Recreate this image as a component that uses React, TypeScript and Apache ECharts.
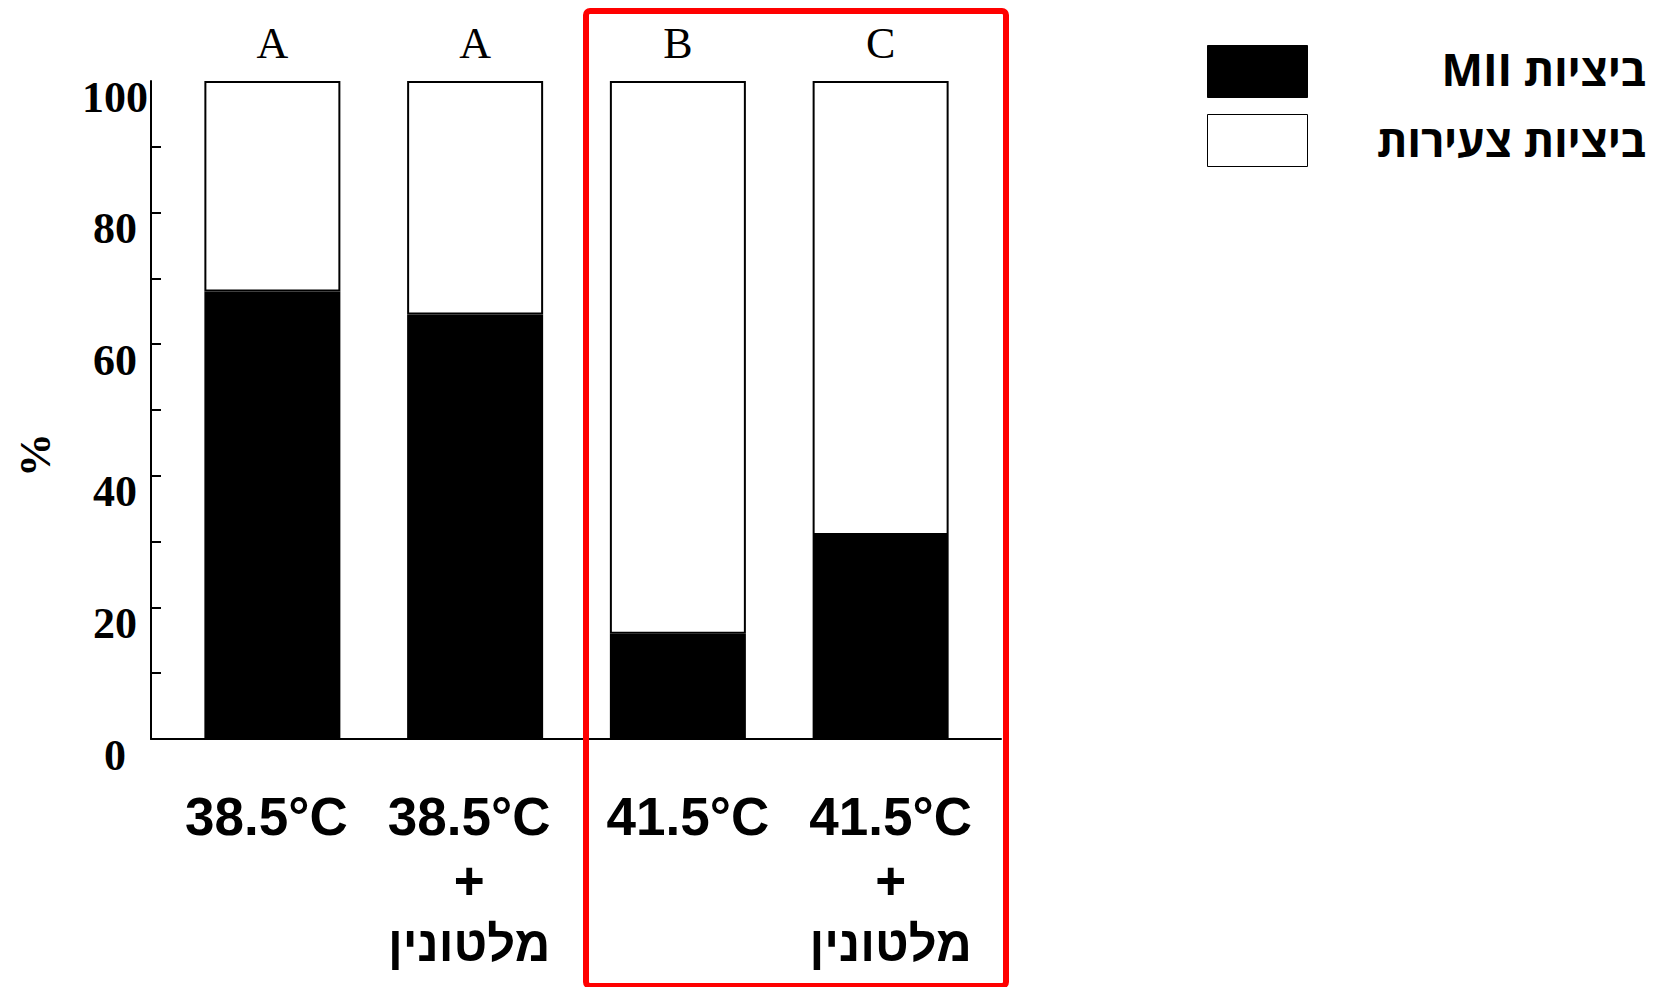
import React, { useEffect, useRef } from 'react';
import * as echarts from 'echarts';

// ---- data ----
const categories = ['38.5°C', '38.5°C\n+\nמלטונין', '41.5°C', '41.5°C\n+\nמלטונין'];
const miiValues = [68, 64.5, 16, 31];
const youngValues = [32, 35.5, 84, 69];
const groupLetters = ['A', 'A', 'B', 'C'];
const seriesNames = ['\u202Bביציות MII\u202C', 'ביציות צעירות'];
const yLabelValues = [0, 20, 40, 60, 80, 100];
const yTickValues = [10, 20, 30, 40, 50, 60, 70, 80, 90];
const yAxisName = '%';

const SERIF = '"Liberation Serif", "Times New Roman", serif';
const NARROW = '"Liberation Sans Narrow", "Arial Narrow", "Liberation Sans", Arial, sans-serif';
const LEGEND_FONT = '"Open Sans", "Liberation Sans", Arial, sans-serif';

const hasHebrew = (s: string) => /[\u0590-\u05FF]/.test(s);

// category label: each line gets its own rich style; left-hand pair sits a little left, right-hand pair a little right
const formatCategory = (value: string, index: number) => {
  const side = index < 2 ? 'L' : 'R';
  return value
    .split('\n')
    .map((line) => `{${hasHebrew(line) ? 'h' : 't'}${side}|${line}}`)
    .join('\n');
};

export default function App() {
  const ref = useRef<HTMLDivElement>(null);
  useEffect(() => {
    document.body.style.margin = '0';
    if (!ref.current) return;
    const chart = echarts.init(ref.current, null, { renderer: 'svg' });
    const axisLineStyle = { color: '#000', width: 2 };
    const base = { fontFamily: NARROW, fontWeight: 'bold', color: '#000', lineHeight: 64 };
    const tStyle = { ...base, fontSize: 53 };
    const hStyle = { ...base, fontSize: 49 };
    const padL = [0, 12, 0, 0];
    const padR = [0, 0, 0, 20];

    // legend layout constants
    const legendLeft = 1207;
    const legendTop = 45;
    const legendItemH = 52;
    const legendGap = 16;
    const legendTextRight = 1646;

    chart.setOption({
      animation: false,
      backgroundColor: '#ffffff',
      grid: [
        { left: 151, top: 81, width: 850, height: 658 },
        { left: 171, top: 81, width: 811, height: 658 },
      ],
      xAxis: [
        {
          gridIndex: 0,
          type: 'value',
          min: 0,
          max: 1,
          axisLine: { show: true, onZero: false, lineStyle: axisLineStyle },
          axisTick: { show: false },
          axisLabel: { show: false },
          splitLine: { show: false },
        },
        {
          gridIndex: 1,
          type: 'category',
          data: categories,
          axisLine: { show: false },
          axisTick: { show: false },
          axisLabel: {
            interval: 0,
            margin: 45,
            fontFamily: NARROW,
            fontWeight: 'bold',
            fontSize: 53,
            lineHeight: 64,
            color: '#000',
            formatter: formatCategory,
            rich: {
              tL: { ...tStyle, padding: padL },
              tR: { ...tStyle, padding: padR },
              hL: { ...hStyle, padding: padL },
              hR: { ...hStyle, padding: padR },
            },
          },
        },
      ],
      yAxis: [
        {
          gridIndex: 0,
          type: 'value',
          min: 0,
          max: 100,
          interval: 10,
          name: yAxisName,
          nameLocation: 'middle',
          nameGap: 94,
          nameTextStyle: {
            fontFamily: SERIF,
            fontWeight: 'bold',
            fontSize: 44,
            color: '#000',
            padding: [0, 90, 0, 0],
          },
          axisLine: { show: true, lineStyle: axisLineStyle },
          axisTick: {
            show: true,
            inside: true,
            length: 10,
            customValues: yTickValues,
            lineStyle: axisLineStyle,
          },
          axisLabel: {
            customValues: yLabelValues,
            align: 'center',
            verticalAlign: 'top',
            lineHeight: 32,
            margin: 36,
            fontFamily: SERIF,
            fontWeight: 'bold',
            fontSize: 44,
            color: '#000',
          },
          splitLine: { show: false },
        },
        { gridIndex: 1, type: 'value', min: 0, max: 100, show: false },
      ],
      legend: {
        orient: 'vertical',
        left: legendLeft,
        top: legendTop,
        padding: 0,
        itemWidth: 100,
        itemHeight: legendItemH,
        itemGap: legendGap,
        icon: 'rect',
        selectedMode: false,
        data: seriesNames,
        itemStyle: { borderWidth: 1 },
        formatter: () => '',
        textStyle: { fontSize: 1 },
      },
      series: [
        {
          name: seriesNames[0],
          type: 'bar',
          stack: 'total',
          xAxisIndex: 1,
          yAxisIndex: 1,
          barWidth: 136,
          data: miiValues,
          itemStyle: { color: '#000', borderColor: '#000', borderWidth: 2 },
        },
        {
          name: seriesNames[1],
          type: 'bar',
          stack: 'total',
          xAxisIndex: 1,
          yAxisIndex: 1,
          barWidth: 136,
          data: youngValues,
          itemStyle: { color: '#fff', borderColor: '#000', borderWidth: 2 },
          label: {
            show: true,
            position: 'top',
            distance: 16,
            formatter: (p: any) => groupLetters[p.dataIndex],
            fontFamily: SERIF,
            fontSize: 44,
            color: '#000',
          },
        },
      ],
      graphic: [
        ...seriesNames.map((name, i) => ({
          type: 'text',
          z: 50,
          style: {
            text: name,
            x: legendTextRight,
            y: legendTop + legendItemH / 2 + i * (legendItemH + legendGap + 3) - 2,
            align: 'right',
            verticalAlign: 'middle',
            fontFamily: LEGEND_FONT,
            fontWeight: 'bold',
            fontSize: 44,
            fill: '#000',
          },
        })),
        {
          type: 'rect',
          z: 100,
          shape: { x: 586, y: 11, width: 420, height: 975, r: 4 },
          style: { fill: 'none', stroke: '#ff0000', lineWidth: 6 },
        },
      ],
    });
    return () => chart.dispose();
  }, []);
  return <div ref={ref} style={{ width: 1655, height: 987 }} />;
}
